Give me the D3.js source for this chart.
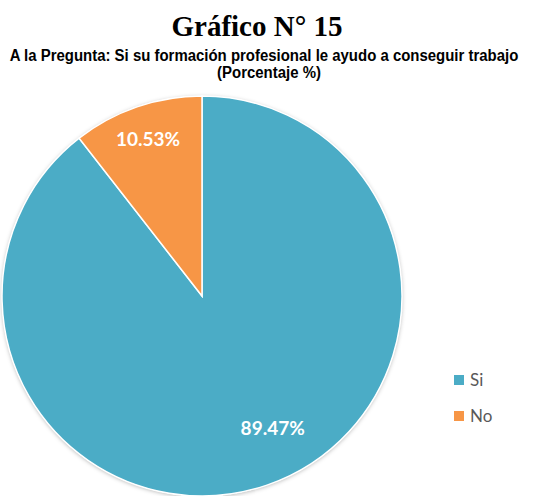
<!DOCTYPE html>
<html>
<head>
<meta charset="utf-8">
<script src="https://cdn.jsdelivr.net/npm/d3@7"></script>
<style>
  html, body { margin: 0; padding: 0; background: #fff; }
  svg { display: block; }
</style>
</head>
<body>
<svg id="chart"></svg>
<script>
// Data.
const categories = ["Si", "No"];
const percentages = [89.47, 10.53];
const colors = ["#4BACC6", "#F79646"];
const title = "Gráfico N° 15";
const subtitle = ["A la Pregunta: Si su formación profesional le ayudo a conseguir trabajo", "(Porcentaje %)"];

// Dimensions.
const width = 534;
const height = 496;
const cx = 202, cy = 296, radius = 200;

const svg = d3.select("#chart")
    .attr("width", width)
    .attr("height", height);

// Soft shadow round the pie.
const defs = svg.append("defs");
const filter = defs.append("filter")
    .attr("id", "shadow")
    .attr("x", "-10%").attr("y", "-10%")
    .attr("width", "120%").attr("height", "120%");
filter.append("feDropShadow")
    .attr("dx", 0).attr("dy", 1)
    .attr("stdDeviation", 2)
    .attr("flood-color", "#000")
    .attr("flood-opacity", 0.3);

// Titles.
svg.append("text")
    .attr("x", 257).attr("y", 36)
    .attr("text-anchor", "middle")
    .attr("font-family", "'Liberation Serif', 'Times New Roman', serif")
    .attr("font-weight", "bold")
    .attr("font-size", 29)
    .attr("fill", "#000")
    .text(title);

// Subtitle is a condensed face: squeeze a normal sans horizontally.
const subScale = 0.88;
svg.selectAll(".subtitle")
    .data(subtitle)
    .enter().append("text")
    .attr("class", "subtitle")
    .attr("transform", (d, i) => "translate(" + (i === 0 ? 264 : 269) + "," + (61 + i * 17) + ") scale(" + subScale + ",1)")
    .attr("text-anchor", "middle")
    .attr("font-family", "'Liberation Sans', Arial, sans-serif")
    .attr("font-weight", "bold")
    .attr("font-size", 17)
    .attr("fill", "#000")
    .text(d => d);

// Pie.
const pie = d3.pie().sort(null).value(d => d);
const arc = d3.arc().innerRadius(0).outerRadius(radius);
const arcs = pie(percentages);

const g = svg.append("g")
    .attr("transform", "translate(" + cx + "," + cy + ")");

g.append("circle")
    .attr("r", radius)
    .attr("fill", "#fff")
    .attr("filter", "url(#shadow)");

g.selectAll("path")
    .data(arcs)
    .enter().append("path")
    .attr("d", arc)
    .attr("fill", (d, i) => colors[i])
    .attr("stroke", "#fff")
    .attr("stroke-width", 1.5);

// Labels: the small slice at its middle, the big one a little off-centre like Excel.
const labelPos = function (d, i) {
    const mid = (d.startAngle + d.endAngle) / 2;
    if (i === 0) return d3.pointRadial(mid - 0.16, radius * 0.75);
    return d3.pointRadial(mid - 2 * Math.PI, radius * 0.83);
};

g.selectAll(".label")
    .data(arcs)
    .enter().append("text")
    .attr("class", "label")
    .attr("x", (d, i) => labelPos(d, i)[0])
    .attr("y", (d, i) => labelPos(d, i)[1])
    .attr("dy", "0.35em")
    .attr("text-anchor", "middle")
    .attr("font-family", "Lato, 'Open Sans', sans-serif")
    .attr("font-weight", "bold")
    .attr("font-size", 19)
    .attr("fill", "#fff")
    .text(d => d.data.toFixed(2) + "%");

// Legend.
const legend = svg.append("g")
    .attr("transform", "translate(454,375)");

const items = legend.selectAll("g")
    .data(categories)
    .enter().append("g")
    .attr("transform", (d, i) => "translate(0," + i * 36 + ")");

items.append("rect")
    .attr("width", 10).attr("height", 10)
    .attr("fill", (d, i) => colors[i]);

items.append("text")
    .attr("x", 16).attr("y", 11)
    .attr("font-family", "Lato, 'Open Sans', sans-serif")
    .attr("font-size", 17)
    .attr("fill", "#595959")
    .text(d => d);
</script>
</body>
</html>
